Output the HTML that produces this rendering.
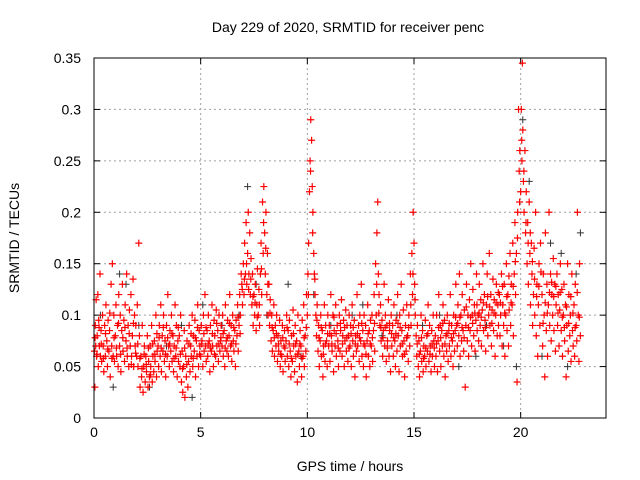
<!DOCTYPE html>
<html><head><meta charset="utf-8"><style>
html,body{margin:0;padding:0;background:#fff;}
svg{display:block;font-family:"Liberation Sans",sans-serif;}
</style></head><body>
<svg id="chart" width="640" height="480" viewBox="0 0 640 480">
<rect width="640" height="480" fill="#fff"/>
<text x="348" y="32" font-size="14" text-anchor="middle">Day 229 of 2020, SRMTID for receiver penc</text>
<text x="19" y="238" font-size="14" text-anchor="middle" transform="rotate(-90 19 238)">SRMTID / TECUs</text>
<text x="350" y="471" font-size="14" text-anchor="middle">GPS time / hours</text>
<g id="grid"></g>
<g id="ticks"></g>
<g id="grey" stroke="#333" stroke-width="1"></g>
<g id="red" stroke="#f00" stroke-width="1.2"></g>
<rect x="94" y="58" width="512" height="360" fill="none" stroke="#000" stroke-width="1"/>
</svg>
<script>
const xTicks=[0,5,10,15,20];
const yTicks=[0,0.05,0.1,0.15,0.2,0.25,0.3,0.35];
const yTickLabels=["0","0.05","0.1","0.15","0.2","0.25","0.3","0.35"];
const greyPoints=[[0.3,.1],[0.9,.03],[1.2,.14],[1.5,.13],[2.1,.09],[2.6,.03],[3.4,.07],[4.1,.09],[4.6,.02],[5.1,.11],[6.0,.09],[6.8,.1],[7.2,.225],[7.6,.13],[8.1,.1],[9.1,.13],[9.7,.06],[10.3,.12],[11.1,.09],[12.1,.1],[12.6,.11],[13.5,.08],[14.2,.1],[14.7,.08],[15.4,.09],[16.2,.1],[17.1,.05],[17.9,.06],[18.4,.09],[19.2,.07],[19.8,.05],[20.1,.29],[20.4,.23],[21.0,.06],[21.4,.17],[21.9,.16],[22.2,.05],[22.6,.14],[22.8,.18]];
const redPoints=[
[0.02,.065],[0.04,.03],[0.06,.09],[0.08,.07],[0.1,.115],[0.12,.06],[0.15,.08],[0.18,.12],[0.2,.05],[0.22,.095],[0.25,.07],[0.28,.14],[0.3,.06],[0.33,.085],[0.36,.055],[0.4,.1],[0.43,.07],[0.46,.045],[0.5,.09],[0.53,.06],[0.56,.11],[0.6,.075],[0.63,.05],[0.66,.095],[0.7,.065],[0.73,.085],[0.76,.04],[0.8,.13],[0.83,.07],[0.86,.15],[0.9,.06],[0.93,.1],[0.96,.055],
[1.0,.08],[1.03,.11],[1.06,.06],[1.1,.09],[1.13,.05],[1.16,.12],[1.2,.07],[1.23,.1],[1.26,.045],[1.3,.085],[1.33,.13],[1.36,.065],[1.4,.095],[1.43,.055],[1.46,.11],[1.5,.075],[1.53,.14],[1.56,.06],[1.6,.09],[1.63,.05],[1.66,.105],[1.7,.07],[1.73,.12],[1.76,.06],[1.8,.08],[1.83,.135],[1.86,.05],[1.9,.1],[1.93,.07],[1.96,.09],
[2.0,.06],[2.03,.11],[2.06,.05],[2.1,.17],[2.13,.08],[2.16,.03],[2.2,.06],[2.23,.04],[2.26,.09],[2.3,.025],[2.33,.05],[2.36,.07],[2.4,.035],[2.43,.06],[2.46,.045],[2.5,.08],[2.53,.03],[2.56,.055],[2.6,.04],[2.63,.07],[2.66,.05],[2.7,.09],[2.73,.035],[2.76,.06],[2.8,.045],[2.83,.075],[2.86,.055],[2.9,.1],[2.93,.04],[2.96,.065],
[3.0,.07],[3.03,.05],[3.06,.09],[3.1,.06],[3.13,.11],[3.16,.045],[3.2,.08],[3.23,.065],[3.26,.1],[3.3,.055],[3.33,.075],[3.36,.04],[3.4,.09],[3.43,.06],[3.46,.12],[3.5,.07],[3.53,.05],[3.56,.085],[3.6,.065],[3.63,.1],[3.66,.055],[3.7,.08],[3.73,.045],[3.76,.07],[3.8,.11],[3.83,.06],[3.86,.09],[3.9,.04],[3.93,.075],[3.96,.055],
[4.0,.08],[4.03,.05],[4.06,.1],[4.1,.035],[4.13,.065],[4.16,.025],[4.2,.05],[4.23,.085],[4.26,.02],[4.3,.06],[4.33,.04],[4.36,.075],[4.4,.03],[4.43,.055],[4.46,.09],[4.5,.045],[4.53,.07],[4.56,.06],[4.6,.1],[4.63,.05],[4.66,.08],[4.7,.065],[4.73,.095],[4.76,.04],[4.8,.075],[4.83,.06],[4.86,.11],[4.9,.05],[4.93,.085],[4.96,.07],
[5.0,.06],[5.03,.09],[5.06,.075],[5.1,.05],[5.13,.1],[5.16,.065],[5.2,.12],[5.23,.07],[5.26,.055],[5.3,.085],[5.33,.06],[5.36,.1],[5.4,.075],[5.43,.045],[5.46,.09],[5.5,.065],[5.53,.11],[5.56,.07],[5.6,.05],[5.63,.095],[5.66,.08],[5.7,.06],[5.73,.105],[5.76,.07],[5.8,.085],[5.83,.055],[5.86,.1],[5.9,.065],[5.93,.075],[5.96,.09],
[6.0,.07],[6.03,.1],[6.06,.06],[6.1,.085],[6.13,.05],[6.16,.11],[6.2,.075],[6.23,.065],[6.26,.095],[6.3,.06],[6.33,.08],[6.36,.12],[6.4,.07],[6.43,.09],[6.46,.055],[6.5,.1],[6.53,.075],[6.56,.065],[6.6,.085],[6.63,.05],[6.66,.095],[6.7,.08],[6.73,.11],[6.76,.065],[6.8,.09],[6.83,.12],[6.86,.1],[6.9,.14],[6.93,.13],[6.96,.11],
[7.0,.15],[7.03,.12],[7.06,.17],[7.1,.14],[7.13,.19],[7.16,.13],[7.2,.16],[7.23,.2],[7.26,.14],[7.3,.18],[7.33,.12],[7.36,.155],[7.4,.11],[7.43,.14],[7.46,.09],[7.5,.12],[7.53,.1],[7.56,.13],[7.6,.085],[7.63,.11],[7.66,.145],[7.7,.1],[7.73,.125],[7.76,.09],[7.8,.14],[7.83,.17],[7.86,.12],[7.9,.21],[7.93,.16],[7.96,.225],
[8.0,.18],[8.03,.14],[8.06,.2],[8.1,.12],[8.13,.16],[8.16,.1],[8.2,.13],[8.23,.09],[8.26,.115],[8.3,.075],[8.33,.1],[8.36,.065],[8.4,.085],[8.43,.11],[8.46,.06],[8.5,.09],[8.53,.07],[8.56,.1],[8.6,.055],[8.63,.08],[8.66,.065],[8.7,.095],[8.73,.05],[8.76,.075],[8.8,.06],[8.83,.09],[8.86,.045],[8.9,.07],[8.93,.085],[8.96,.055],
[9.0,.075],[9.03,.1],[9.06,.06],[9.1,.085],[9.13,.05],[9.16,.095],[9.2,.065],[9.23,.04],[9.26,.08],[9.3,.055],[9.33,.105],[9.36,.07],[9.4,.045],[9.43,.09],[9.46,.06],[9.5,.075],[9.53,.035],[9.56,.1],[9.6,.065],[9.63,.05],[9.66,.085],[9.7,.07],[9.73,.04],[9.76,.095],[9.8,.06],[9.83,.11],[9.86,.05],[9.9,.08],[9.93,.065],[9.96,.12],
[10.0,.1],[10.03,.14],[10.06,.17],[10.1,.22],[10.13,.25],[10.16,.29],[10.2,.27],[10.23,.225],[10.26,.2],[10.3,.16],[10.33,.14],[10.36,.12],[10.4,.1],[10.43,.08],[10.46,.11],[10.5,.065],[10.53,.09],[10.56,.05],[10.6,.075],[10.63,.1],[10.66,.06],[10.7,.085],[10.73,.04],[10.76,.07],[10.8,.11],[10.83,.055],[10.86,.09],[10.9,.075],[10.93,.05],[10.96,.1],
[11.0,.07],[11.03,.09],[11.06,.055],[11.1,.12],[11.13,.08],[11.16,.065],[11.2,.1],[11.23,.045],[11.26,.085],[11.3,.07],[11.33,.11],[11.36,.06],[11.4,.09],[11.43,.075],[11.46,.05],[11.5,.1],[11.53,.065],[11.56,.085],[11.6,.115],[11.63,.06],[11.66,.08],[11.7,.095],[11.73,.05],[11.76,.075],[11.8,.105],[11.83,.065],[11.86,.09],[11.9,.055],[11.93,.08],[11.96,.1],
[12.0,.07],[12.03,.09],[12.06,.05],[12.1,.11],[12.13,.075],[12.16,.06],[12.2,.095],[12.23,.04],[12.26,.08],[12.3,.065],[12.33,.12],[12.36,.07],[12.4,.09],[12.43,.055],[12.46,.1],[12.5,.075],[12.53,.13],[12.56,.06],[12.6,.085],[12.63,.05],[12.66,.1],[12.7,.07],[12.73,.09],[12.76,.04],[12.8,.075],[12.83,.11],[12.86,.06],[12.9,.085],[12.93,.05],[12.96,.095],
[13.0,.07],[13.03,.1],[13.06,.055],[13.1,.085],[13.13,.12],[13.16,.065],[13.2,.15],[13.23,.1],[13.26,.18],[13.3,.21],[13.33,.14],[13.36,.12],[13.4,.09],[13.43,.11],[13.46,.075],[13.5,.095],[13.53,.06],[13.56,.085],[13.6,.13],[13.63,.07],[13.66,.1],[13.7,.055],[13.73,.09],[13.76,.075],[13.8,.115],[13.83,.06],[13.86,.085],[13.9,.045],[13.93,.1],[13.96,.07],
[14.0,.09],[14.03,.06],[14.06,.11],[14.1,.075],[14.13,.05],[14.16,.095],[14.2,.065],[14.23,.12],[14.26,.08],[14.3,.045],[14.33,.1],[14.36,.07],[14.4,.13],[14.43,.085],[14.46,.06],[14.5,.105],[14.53,.075],[14.56,.04],[14.6,.09],[14.63,.065],[14.66,.11],[14.7,.08],[14.73,.055],[14.76,.1],[14.8,.07],[14.83,.14],[14.86,.09],[14.9,.16],[14.93,.12],[14.96,.2],
[15.0,.17],[15.03,.13],[15.06,.1],[15.1,.08],[15.13,.06],[15.16,.09],[15.2,.05],[15.23,.075],[15.26,.04],[15.3,.065],[15.33,.1],[15.36,.055],[15.4,.085],[15.43,.045],[15.46,.07],[15.5,.06],[15.53,.095],[15.56,.05],[15.6,.08],[15.63,.065],[15.66,.11],[15.7,.055],[15.73,.09],[15.76,.07],[15.8,.045],[15.83,.085],[15.86,.06],[15.9,.1],[15.93,.075],[15.96,.05],
[16.0,.08],[16.03,.06],[16.06,.1],[16.1,.045],[16.13,.075],[16.16,.12],[16.2,.065],[16.23,.09],[16.26,.05],[16.3,.085],[16.33,.07],[16.36,.11],[16.4,.06],[16.43,.095],[16.46,.04],[16.5,.08],[16.53,.065],[16.56,.1],[16.6,.055],[16.63,.085],[16.66,.07],[16.7,.12],[16.73,.06],[16.76,.09],[16.8,.075],[16.83,.05],[16.86,.1],[16.9,.065],[16.93,.085],[16.96,.13],
[17.0,.09],[17.03,.07],[17.06,.11],[17.1,.08],[17.13,.14],[17.16,.06],[17.2,.1],[17.23,.075],[17.26,.12],[17.3,.085],[17.33,.065],[17.36,.105],[17.4,.03],[17.43,.09],[17.46,.13],[17.5,.075],[17.53,.1],[17.56,.06],[17.6,.115],[17.63,.085],[17.66,.15],[17.7,.07],[17.73,.1],[17.76,.125],[17.8,.08],[17.83,.11],[17.86,.065],[17.9,.095],[17.93,.14],[17.96,.085],
[18.0,.1],[18.03,.075],[18.06,.13],[18.1,.09],[18.13,.115],[18.16,.07],[18.2,.105],[18.23,.15],[18.26,.085],[18.3,.12],[18.33,.095],[18.36,.065],[18.4,.11],[18.43,.14],[18.46,.08],[18.5,.1],[18.53,.16],[18.56,.09],[18.6,.12],[18.63,.07],[18.66,.105],[18.7,.135],[18.73,.085],[18.76,.115],[18.8,.06],[18.83,.1],[18.86,.13],[18.9,.08],[18.93,.11],[18.96,.09],
[19.0,.12],[19.03,.08],[19.06,.1],[19.1,.14],[19.13,.07],[19.16,.11],[19.2,.09],[19.23,.13],[19.26,.06],[19.3,.1],[19.33,.15],[19.36,.085],[19.4,.12],[19.43,.07],[19.46,.105],[19.5,.16],[19.53,.09],[19.56,.13],[19.6,.11],[19.63,.17],[19.66,.08],[19.7,.14],[19.73,.19],[19.76,.12],[19.8,.16],[19.83,.035],[19.86,.2],[19.9,.3],[19.93,.24],[19.96,.26],
[20.0,.22],[20.03,.3],[20.06,.25],[20.08,.345],[20.1,.28],[20.13,.23],[20.16,.2],[20.2,.26],[20.23,.18],[20.26,.22],[20.3,.15],[20.33,.19],[20.36,.13],[20.4,.21],[20.43,.16],[20.46,.11],[20.5,.17],[20.53,.14],[20.56,.09],[20.6,.12],[20.63,.165],[20.66,.1],[20.7,.2],[20.73,.08],[20.76,.13],[20.8,.06],[20.83,.11],[20.86,.15],[20.9,.09],[20.93,.17],
[21.0,.12],[21.03,.07],[21.06,.14],[21.1,.1],[21.13,.04],[21.16,.18],[21.2,.085],[21.23,.13],[21.26,.06],[21.3,.11],[21.33,.2],[21.36,.09],[21.4,.14],[21.43,.075],[21.46,.12],[21.5,.1],[21.53,.155],[21.56,.085],[21.6,.13],[21.63,.065],[21.66,.11],[21.7,.14],[21.73,.09],[21.76,.12],[21.8,.07],[21.83,.105],[21.86,.15],[21.9,.085],[21.93,.125],[21.96,.06],
[22.0,.1],[22.03,.13],[22.06,.075],[22.1,.11],[22.13,.04],[22.16,.09],[22.2,.15],[22.23,.065],[22.26,.12],[22.3,.08],[22.33,.1],[22.36,.055],[22.4,.14],[22.43,.085],[22.46,.07],[22.5,.11],[22.53,.06],[22.56,.13],[22.6,.09],[22.63,.075],[22.66,.2],[22.7,.1],[22.73,.055],[22.76,.15],[22.8,.08]
];
const redPoints2=[
[0.05,.078],[0.14,.062],[0.24,.088],[0.34,.072],[0.44,.058],[0.54,.082],[0.64,.067],[0.74,.102],[0.84,.058],[0.94,.078],
[1.05,.068],[1.15,.092],[1.25,.062],[1.35,.078],[1.45,.088],[1.55,.068],[1.65,.082],[1.75,.052],[1.85,.092],[1.95,.063],
[2.05,.072],[2.15,.058],[2.25,.048],[2.35,.062],[2.45,.052],[2.55,.068],[2.65,.042],[2.75,.072],[2.85,.062],[2.95,.082],
[3.05,.078],[3.15,.068],[3.25,.088],[3.35,.062],[3.45,.078],[3.55,.072],[3.65,.082],[3.75,.058],[3.85,.068],[3.95,.088],
[4.05,.062],[4.15,.048],[4.25,.068],[4.35,.052],[4.45,.072],[4.55,.082],[4.65,.058],[4.75,.078],[4.85,.088],[4.95,.062],
[5.05,.072],[5.15,.082],[5.25,.088],[5.35,.072],[5.45,.068],[5.55,.082],[5.65,.062],[5.75,.092],[5.85,.072],[5.95,.078],
[6.05,.082],[6.15,.068],[6.25,.078],[6.35,.092],[6.45,.072],[6.55,.088],[6.65,.072],[6.75,.098],[6.85,.082],[6.95,.125],
[7.05,.135],[7.15,.15],[7.25,.125],[7.35,.135],[7.45,.118],[7.55,.112],[7.65,.098],[7.75,.11],[7.85,.145],[7.95,.19],
[8.05,.165],[8.15,.13],[8.25,.102],[8.35,.088],[8.45,.078],[8.55,.082],[8.65,.072],[8.75,.062],[8.85,.078],[8.95,.068],
[9.05,.088],[9.15,.072],[9.25,.058],[9.35,.082],[9.45,.072],[9.55,.062],[9.65,.072],[9.75,.058],[9.85,.078],[9.95,.088],
[10.05,.12],[10.15,.24],[10.25,.18],[10.35,.135],[10.45,.095],[10.55,.078],[10.65,.088],[10.75,.062],[10.85,.072],[10.95,.082],
[11.05,.082],[11.15,.072],[11.25,.098],[11.35,.082],[11.45,.068],[11.55,.092],[11.65,.072],[11.75,.088],[11.85,.078],[11.95,.068],
[12.05,.082],[12.15,.088],[12.25,.072],[12.35,.082],[12.45,.078],[12.55,.092],[12.65,.072],[12.75,.062],[12.85,.082],[12.95,.072],
[13.05,.078],[13.15,.092],[13.25,.13],[13.35,.102],[13.45,.088],[13.55,.078],[13.65,.088],[13.75,.068],[13.85,.092],[13.95,.082],
[14.05,.078],[14.15,.082],[14.25,.092],[14.35,.088],[14.45,.072],[14.55,.062],[14.65,.078],[14.75,.088],[14.85,.11],[14.95,.14],
[15.05,.115],[15.15,.072],[15.25,.062],[15.35,.078],[15.45,.058],[15.55,.068],[15.65,.082],[15.75,.062],[15.85,.072],[15.95,.068],
[16.05,.072],[16.15,.088],[16.25,.078],[16.35,.092],[16.45,.072],[16.55,.082],[16.65,.092],[16.75,.078],[16.85,.082],[16.95,.098],
[17.05,.092],[17.15,.098],[17.25,.088],[17.35,.078],[17.45,.108],[17.55,.088],[17.65,.098],[17.75,.092],[17.85,.102],[17.95,.11],
[18.05,.102],[18.15,.098],[18.25,.112],[18.35,.088],[18.45,.118],[18.55,.108],[18.65,.092],[18.75,.102],[18.85,.112],[18.95,.122],
[19.05,.112],[19.15,.128],[19.25,.102],[19.35,.118],[19.45,.138],[19.55,.112],[19.65,.128],[19.75,.152],[19.85,.175],[19.95,.21],
[20.05,.27],[20.15,.24],[20.25,.19],[20.35,.17],[20.45,.18],[20.55,.152],[20.65,.135],[20.75,.118],[20.85,.128],[20.95,.142],
[21.05,.092],[21.15,.112],[21.25,.102],[21.35,.122],[21.45,.132],[21.55,.118],[21.65,.128],[21.75,.102],[21.85,.122],[21.95,.098],
[22.05,.088],[22.15,.108],[22.25,.092],[22.35,.118],[22.45,.102],[22.55,.088],[22.65,.122],[22.75,.098]
];
const NS="http://www.w3.org/2000/svg";
const L=94,R=606,T=58,B=418,XMAX=24,YMAX=0.35;
function xs(v){return L+(v/XMAX)*(R-L);}
function ys(v){return B-(v/YMAX)*(B-T);}
function mk(tag,attrs,parent){const e=document.createElementNS(NS,tag);for(const k in attrs)e.setAttribute(k,attrs[k]);parent.appendChild(e);return e;}
const grid=document.getElementById('grid'),ticks=document.getElementById('ticks');
xTicks.forEach(t=>{
  const x=xs(t);
  if(t>0){const g=mk('line',{x1:x,x2:x,y1:T,y2:B,stroke:'#a0a0a0','stroke-dasharray':'2,3'},grid);
  
  }
  mk('line',{x1:x,x2:x,y1:B,y2:B-6,stroke:'#000'},ticks);
  mk('line',{x1:x,x2:x,y1:T,y2:T+6,stroke:'#000'},ticks);
  const lab=mk('text',{x:x,y:B+19,'font-size':14,'text-anchor':'middle'},ticks);
  lab.textContent=String(t);
  
  
});
yTicks.forEach((t,i)=>{
  const y=ys(t);
  if(i>0&&i<yTicks.length-1){const g=mk('line',{x1:L,x2:R,y1:y,y2:y,stroke:'#a0a0a0','stroke-dasharray':'2,3'},grid);
  
  }
  mk('line',{x1:L,x2:L+6,y1:y,y2:y,stroke:'#000'},ticks);
  mk('line',{x1:R,x2:R-6,y1:y,y2:y,stroke:'#000'},ticks);
  const lab=mk('text',{x:L-13,y:y+5,'font-size':14,'text-anchor':'end'},ticks);
  lab.textContent=yTickLabels[i];
  
  
});
function plot(pts,gid,name){
  const g=document.getElementById(gid);
  pts.forEach(p=>{
    const x=xs(p[0]),y=ys(p[1]);
    const e=mk('path',{d:`M${x-3.5},${y}h7M${x},${y-3.5}v7`},g);
    
    
  });
}
plot(greyPoints,'grey','grey-point');
plot(redPoints,'red','red-point');
plot(redPoints2,'red','red-point');
</script>
</body></html>
